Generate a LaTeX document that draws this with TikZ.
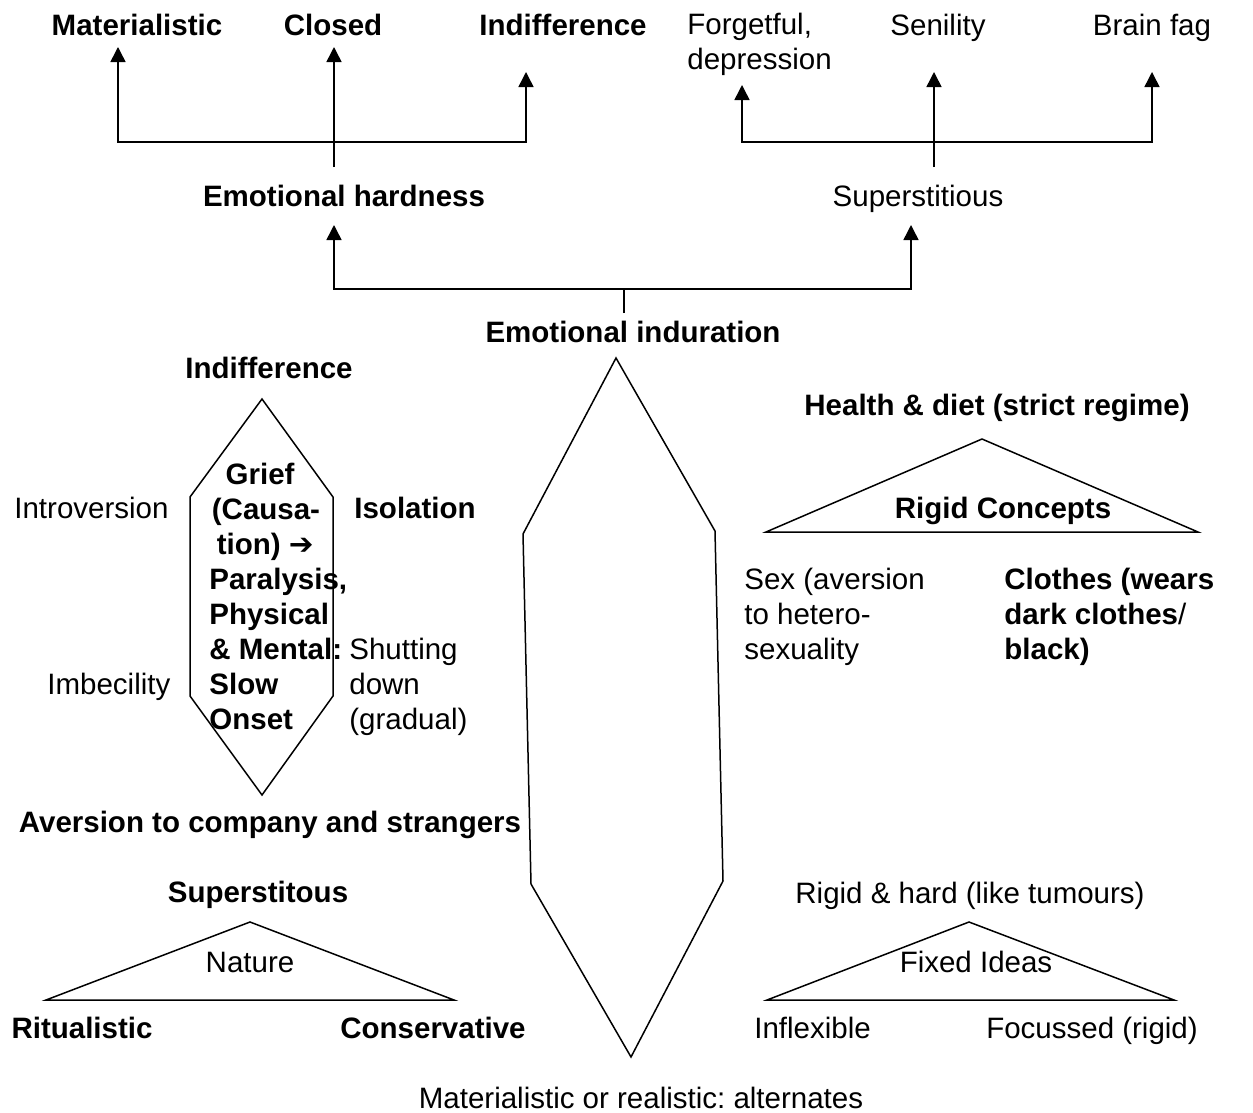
\documentclass[tikz,border=0pt]{standalone}
\usepackage{fontspec}
\setmainfont{Liberation Sans}
\newfontfamily\symfont{DejaVu Sans}
\usetikzlibrary{arrows.meta}
\frenchspacing

\begin{document}
\begin{tikzpicture}[x=0.4pt,y=0.4pt,yscale=-1,xscale=1,
  font=\fontsize{11.8}{14}\selectfont,
  txt/.style={inner sep=0.75pt, anchor=base},
  txtl/.style={inner sep=0.75pt, anchor=base west, align=left},
  bold/.style={font=\fontsize{11.8}{14}\selectfont\bfseries},
  conn/.style={line width=0.6pt},
  tip/.style={conn, -{Triangle[width=6pt,length=6pt]}},
  tips/.style={conn, {Triangle[width=6pt,length=6pt]}-{Triangle[width=6pt,length=6pt]}},
  outline/.style={line width=0.6pt, line join=miter}]
\useasboundingbox (0,0) rectangle (1253,1113);

% Text Node
\node (mat) at (137,35) [txt, bold] {Materialistic};
% Text Node
\node (clo) at (333,35) [txt, bold] {Closed};
% Text Node
\node (ind) at (563,35) [txt, bold] {Indifference};
% Text Node (base = last line)
\node (forg) at (685,69) [txtl] {Forgetful,\\depression};
% Text Node
\node (sen) at (938,35) [txt] {Senility};
% Text Node
\node (brain) at (1152,35) [txt] {Brain fag};
% Text Node
\node (hard) at (344,206) [txt, bold] {Emotional hardness};
% Text Node
\node (sup) at (918,206) [txt] {Superstitious};
% Text Node
\node (indur) at (633,342) [txt, bold] {Emotional induration};
% Text Node
\node (indiff) at (269,378) [txt, bold] {Indifference};
% Text Node
\node (intro) at (12,518) [txtl] {Introversion};
% Text Node
\node (imbec) at (45,694) [txtl] {Imbecility};
% Text Node
\node (isol) at (352,518) [txtl, bold] {Isolation};
% Text Node
\node (grief) at (207,729) [txtl, bold] {\hspace*{6.5pt}Grief\\\hspace*{1pt}(Causa-\\\hspace*{3pt}tion) {\symfont\bfseries ➔}\\Paralysis,\\Physical\\\& Mental:\\Slow\\Onset};
% Text Node
\node (shut) at (347,729) [txtl] {Shutting\\down\\(gradual)};
% Text Node
\node (health) at (997,415) [txt, bold] {Health \& diet (strict regime)};
% Text Node
\node (rigc) at (1003,518) [txt, bold] {Rigid Concepts};
% Text Node
\node (sex) at (742,659) [txtl] {Sex (aversion\\to hetero-\\sexuality};
% Text Node
\node (cloth) at (1002,659) [txtl, bold] {Clothes (wears\\dark clothes{\mdseries /}\\black)};
% Text Node
\node (avers) at (270,832) [txt, bold] {Aversion to company and strangers};
% Text Node
\node (supst) at (258,902) [txt, bold] {Superstitous};
% Text Node
\node (nat) at (250,972) [txt] {Nature};
% Text Node
\node (ritu) at (82,1038) [txt, bold] {Ritualistic};
% Text Node
\node (cons) at (433,1038) [txt, bold] {Conservative};
% Text Node
\node (righ) at (970,903) [txt] {Rigid \& hard (like tumours)};
% Text Node
\node (fixed) at (976,972) [txt] {Fixed Ideas};
% Text Node
\node (infl) at (752,1038) [txtl] {Inflexible};
% Text Node
\node (focus) at (1092,1038) [txt] {Focussed (rigid)};
% Text Node
\node (altn) at (641,1108) [txt] {Materialistic or realistic: alternates};

% Shape: Hexagon
\draw[outline] (262,399) -- (333,497) -- (333,696) -- (262,795) -- (190,696) -- (190,497) -- cycle;
% Shape: Hexagon
\draw[outline] (616,358) -- (715,531) -- (723,881) -- (631,1057) -- (531,884) -- (523,534) -- cycle;
% Shape: Triangle
\draw[outline] (982,439) -- (1198,532) -- (766,532) -- cycle;
% Shape: Triangle
\draw[outline] (250,922) -- (454,1000) -- (46,1000) -- cycle;
% Shape: Triangle
\draw[outline] (969,922) -- (1174,1000) -- (767,1000) -- cycle;

% Coordinates
\coordinate (tl-a) at (118,142);
\coordinate (tl-b) at (526,142);
\coordinate (tl-s) at (334,167);
\coordinate (mat-t) at (118,47);
\coordinate (clo-t) at (334,47);
\coordinate (ind-t) at (526,72);
\coordinate (tr-a) at (742,142);
\coordinate (tr-b) at (1152,142);
\coordinate (tr-s) at (934,167);
\coordinate (forg-t) at (742,85);
\coordinate (sen-t) at (934,72);
\coordinate (brain-t) at (1152,72);
\coordinate (md-a) at (334,289);
\coordinate (md-b) at (911,289);
\coordinate (md-s) at (624,313);
\coordinate (hard-t) at (334,225);
\coordinate (sup-t) at (911,225);

% Connection
\draw[tips] (mat-t) -- (tl-a) -- (tl-b) -- (ind-t);
% Connection
\draw[tip] (tl-s) -- (clo-t);
% Connection
\draw[tips] (forg-t) -- (tr-a) -- (tr-b) -- (brain-t);
% Connection
\draw[tip] (tr-s) -- (sen-t);
% Connection
\draw[tips] (hard-t) -- (md-a) -- (md-b) -- (sup-t);
% Connection
\draw[conn] (md-s) -- (md-s |- md-a);

\end{tikzpicture}
\end{document}
